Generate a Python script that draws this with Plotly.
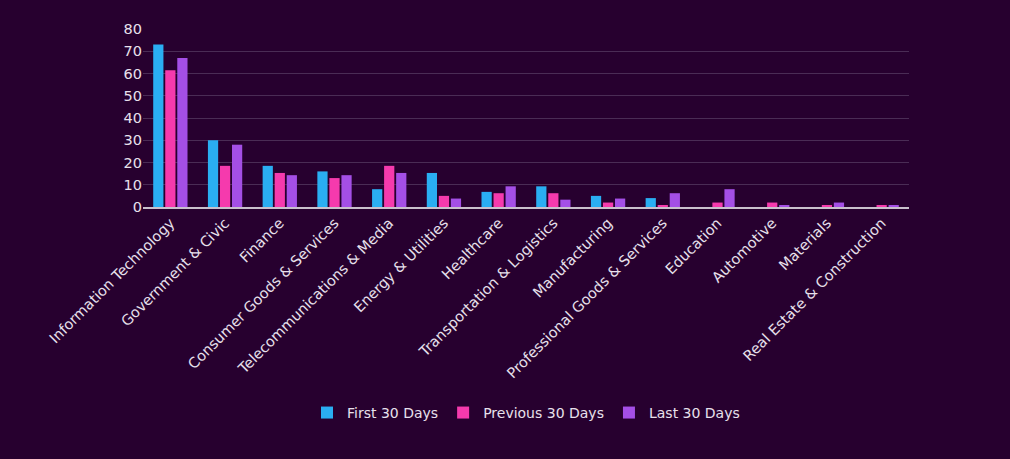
import plotly.graph_objects as go

categories = [
    "Information Technology",
    "Government & Civic",
    "Finance",
    "Consumer Goods & Services",
    "Telecommunications & Media",
    "Energy & Utilities",
    "Healthcare",
    "Transportation & Logistics",
    "Manufacturing",
    "Professional Goods & Services",
    "Education",
    "Automotive",
    "Materials",
    "Real Estate & Construction",
]

first_30_days = [73, 30, 18.5, 16, 8, 15.3, 6.8, 9.3, 5, 4, 0, 0, 0, 0]
previous_30_days = [61.5, 18.5, 15.3, 13, 18.5, 5, 6.2, 6.2, 2, 0.6, 2, 2, 0.6, 0.6]
last_30_days = [67, 28, 14.3, 14.3, 15.3, 3.8, 9.3, 3.3, 3.8, 6.2, 8, 0.6, 2, 0.6]

series = [
    ("First 30 Days", first_30_days, "#2aaef2"),
    ("Previous 30 Days", previous_30_days, "#f53aad"),
    ("Last 30 Days", last_30_days, "#a44fe6"),
]

fig = go.Figure()
for name, values, color in series:
    fig.add_trace(
        go.Bar(
            x=categories,
            y=values,
            name=name,
            marker=dict(color=color, line=dict(width=0)),
        )
    )

fig.update_layout(
    width=1010,
    height=459,
    paper_bgcolor="#27002f",
    plot_bgcolor="#27002f",
    font=dict(family="DejaVu Sans, sans-serif", size=14.5, color="#e8e0ec"),
    margin=dict(l=143, r=101, t=29, b=252),
    barmode="group",
    bargap=0.34,
    bargroupgap=0.15,
    showlegend=True,
    legend=dict(
        orientation="h",
        x=0.5,
        xanchor="center",
        y=-1.157,
        yanchor="middle",
        font=dict(size=14, color="#e8e0ec"),
        itemwidth=30,
    ),
    xaxis=dict(
        tickangle=-45,
        showline=True,
        linecolor="#c8c0cc",
        linewidth=2,
        showgrid=False,
        ticks="",
        tickfont=dict(size=14.5),
    ),
    yaxis=dict(
        range=[0, 80],
        dtick=10,
        showgrid=True,
        gridcolor="#4a2c55",
        gridwidth=1,
        zeroline=False,
        ticks="",
        tickfont=dict(size=14.5),
    ),
)

fig.write_html(
    "out.html",
    config={"displayModeBar": False},
    post_script="document.body.style.margin='0';document.body.style.background='#27002f';",
)
